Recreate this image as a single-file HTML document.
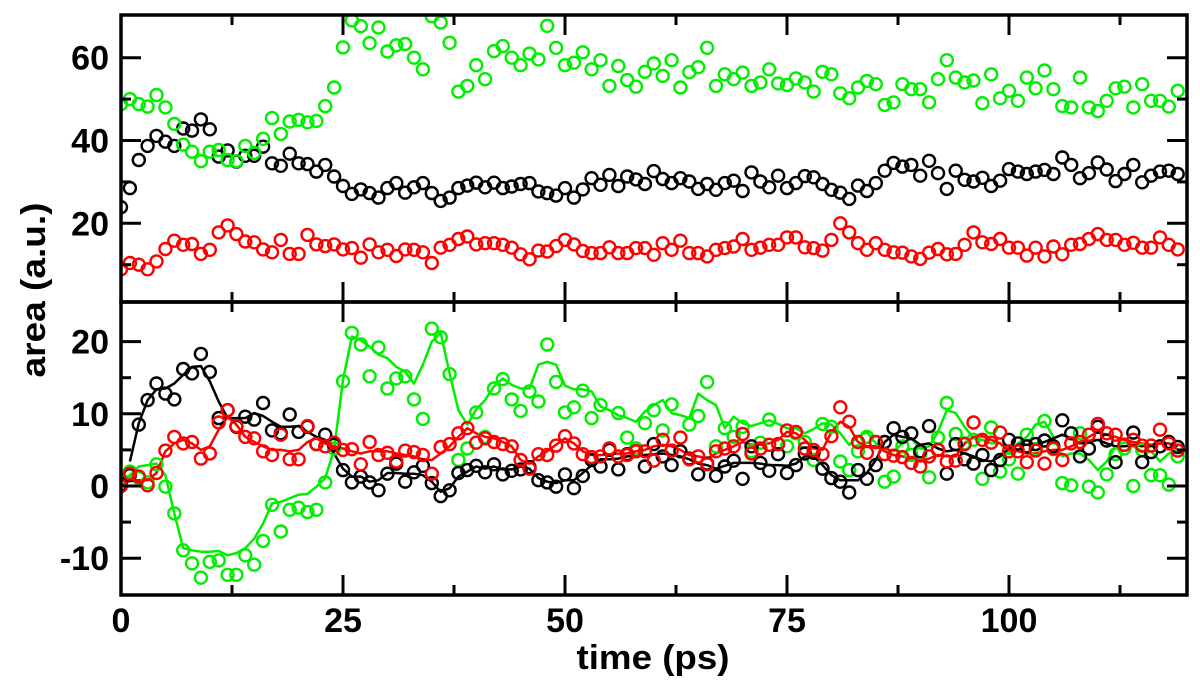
<!DOCTYPE html>
<html>
<head>
<meta charset="utf-8">
<style>
html,body{margin:0;padding:0;background:#fff;}
svg{display:block;font-family:"Liberation Sans",Arial,sans-serif;font-weight:bold;}
</style>
</head>
<body>
<svg id="chart" width="1200" height="680" viewBox="0 0 1200 680" xmlns="http://www.w3.org/2000/svg">
  <defs>
    <clipPath id="clipTop"><rect x="121" y="15" width="1066" height="287"/></clipPath>
    <clipPath id="clipBot"><rect x="121" y="302" width="1066" height="293"/></clipPath>
  </defs>
  <g id="topMarks" clip-path="url(#clipTop)"></g>
  <g id="botMarks" clip-path="url(#clipBot)"></g>
  <g id="axes"></g>
  <text x="0" y="0" transform="translate(45,290) rotate(-90)" text-anchor="middle" font-size="34" textLength="175" lengthAdjust="spacingAndGlyphs">area (a.u.)</text>
  <text x="653" y="669" text-anchor="middle" font-size="34" textLength="153" lengthAdjust="spacingAndGlyphs">time (ps)</text>
</svg>
<script>
// ---- data ----
const topGreen = [48.8,50,48.8,48.2,51,48,44,39,37.3,35,37.3,37.7,35.3,35,38.7,37,40.4,45.4,41.6,44.6,45,44.4,44.7,48.3,52.8,62.5,69,67.6,63.5,67.3,61.5,63,63.3,60,57.2,70,68.5,63.6,51.8,53.2,
58.2,54.8,61.6,62.8,60,58.2,61,59.6,67.7,62.4,58.2,58.8,61.3,57.2,59.4,53.2,58,54.6,53,56.6,58.6,55.6,59.4,52.8,56.5,57.7,62.4,53.2,56,54.8,56.4,53.2,54,57.2,53.8,53.4,55,54,51.8,56.6,
56,51.4,50.2,52.8,54.4,53.6,48.6,49.2,53.6,52.4,52.4,49.2,54.8,59.4,55.2,54,54.5,49,56,50.2,52,49.6,55.2,52.6,56.9,52.4,48.3,48,55.2,48,47.1,49.6,52.6,53,48,53.6,49.6,49.6,48.2,52];
const topBlack = [23.9,28.5,35.3,38.7,41.1,39.7,38.7,42.9,42.4,45.1,42.7,36.1,37.6,34.9,36.3,36.3,38.5,34.5,33.9,36.8,34.5,34.3,32.5,34.1,31.3,29,27.1,28.2,27.3,26.2,28.5,29.7,27.4,28.7,29.7,27.3,25.4,26.2,28.5,29.1,
29.8,28.7,29.8,28.5,28.9,29.5,29.7,27.7,27.3,26.7,28.5,26.2,28.2,30.9,29.3,31.7,29,31.3,30.6,29.5,32.6,30.7,29.7,30.9,30.1,28.3,29.5,28.1,29.7,30.3,27.8,32.3,30.1,28.7,31.5,28.5,29.7,31.4,31.1,29.5,
28.1,27.4,25.9,29.1,27.8,29.7,32.7,34.6,33.7,34.1,31.5,35.1,32.1,28.3,32.7,30.5,30.1,31,29,30.3,33.1,32.5,31.9,32.5,32.9,31.9,35.9,34.1,30.9,32.1,34.7,33,30.2,31.9,34.1,29.9,31.5,32.5,32.7,31.9];
const topRed = [8.9,10.4,10,8.9,10.8,13.8,15.8,14.8,15,12.6,13.6,17.8,19.5,17.4,15.6,15.4,13.7,13,16,12.6,12.6,17.2,14.9,14.5,14.9,13.7,14,11.7,14.9,13,13.6,12.1,13.7,13.6,13,10.4,14.1,14.8,16.2,16.8,
14.9,15.2,15.2,14.8,14.1,12.5,11.3,13.4,13.2,14.5,16,14.9,13.3,12.8,12.8,14.2,12.8,12.8,14,14,12.4,15.2,13.6,15.8,12.8,12.8,12,13.6,14,14.4,16.2,13.6,14.1,14.8,14.8,16.6,16.6,14.2,14,13.4,
16,20,17.8,15.2,13.6,15.2,13.6,13,12.9,12,11.4,12.9,13.8,12.5,12.6,14.8,17.8,15.4,15,16.2,14.1,14.1,12.2,14.1,12,14.4,12.5,14.8,15,16.2,17.4,16,16,14.8,15.3,14.1,14.1,16.6,14.8,13.7];

const botGreen = [0.8,2,1.1,0.5,3,-0.1,-3.8,-8.9,-10.7,-12.7,-10.5,-10.3,-12.3,-12.3,-9.6,-10.9,-7.6,-2.6,-6.3,-3.3,-3,-3.6,-3.3,0.5,5.2,14.5,21.2,19.6,15.2,19.2,13.5,14.9,15.2,12,9.3,21.8,20.6,15.5,3.6,5.2,
10.2,6.8,13.5,14.8,12,10.4,13.1,11.7,19.6,14.4,10.2,10.9,13.2,9.4,11.2,5.2,10.1,6.7,5.2,8.7,10.5,7.7,11.3,4.8,8.5,9.7,14.4,5.5,8,6.8,8.2,4.8,6,9.2,5.8,5.5,7.3,6.1,3.6,8.6,
8.2,3.4,2.2,4.8,6.8,6.1,0.6,1.3,5.5,4.3,4.4,1.2,6.7,11.5,7.2,5.9,6.4,1,8.1,2,3.7,1.7,7.1,5.1,9,5.1,0.4,0.1,7.3,-0.1,-0.9,1.6,4.4,5.2,0,5,1.5,1.5,0.2,4.1];
const botGreenLine = [0.8,1.5,2.7,2.9,3.1,1.5,-3.8,-8.6,-8.9,-9.1,-9.1,-9,-9.6,-9.3,-8.6,-7.3,-5.2,-2.4,-2.2,-1.7,-1.2,-1.1,-0.1,1.1,5,14.7,20.7,20.2,19.3,18.2,17.7,16.5,15.8,14.2,16.8,20,21.2,15.6,10.5,8.5,
10.6,11.9,13.8,14.9,14,13.5,13.5,16.8,17.2,16.8,13.9,13.4,13.4,13.1,11,10.5,9.8,9.4,8.9,10.3,11.2,11.9,10.1,9.8,9.4,12.8,11.9,11.2,8,9.6,8.7,8.3,8.7,9.1,8.6,8,8,7.3,7.9,8.7,
8.5,7.3,5.7,6.8,7.5,5.9,5.2,4.8,5.9,6.6,5.2,5.5,7.5,10.5,10.1,8.2,6.6,6.4,5.9,5.9,4.5,5.9,6.8,8.5,8.9,6.8,4.1,4.5,4.5,3.6,2.2,3.4,5.5,5.5,5.5,4.8,4.8,3.4,4.5,4.8];
const botBlack = [0.2,1.5,8.5,11.9,14.2,12.8,12,16.2,15.6,18.3,15.8,9.4,10.5,8.2,9.6,9.2,11.5,7.7,7.3,9.9,7.5,8.2,5.8,7.1,5.7,2.2,0.5,1.3,0.5,-0.6,1.7,3.1,0.6,1.9,2.8,0.4,-1.4,-0.6,1.8,2.2,
2.8,1.9,3,1.6,2.1,2.3,2.6,0.8,0.5,-0.1,1.6,-0.3,1.4,3.6,2.7,5,2.3,4.4,4.8,2.7,5.8,4.1,2.9,4.8,3.8,1.6,3.1,1.4,2.7,3.5,1,5.5,3.2,2.1,4.4,1.8,2.9,4.5,4.6,2.4,
1.1,0.6,-0.9,2.2,1,2.9,6.1,8,6.8,7.3,4.8,8.3,5,1.7,5.8,3.7,3.1,4.3,2.2,3.6,6.4,5.9,5.5,5.8,6.3,5.5,9.1,7.3,4.1,5.2,8.2,6.3,3.3,5.7,7.4,3.3,4.7,5.5,6.1,5.4];
const botBlackLine = [null,3.4,8.7,11.9,13.4,13.5,14.2,15.4,16.5,16.6,14.5,11.7,9.4,9.4,9.4,10.1,9.7,8.9,8.2,8.2,8.3,7.5,6.8,6.4,4.5,2.4,1.3,1.3,0.6,0.8,1.8,1.8,1.7,1.7,1.5,0.6,-0.8,-0.3,1.3,2,
2.7,2.4,2.7,2.3,2.3,2.7,2.4,1.1,0.6,0.4,0.8,0.8,1.8,2.9,3.7,3.7,3.8,4.1,4.2,4.3,4.4,4.5,4.3,4.1,3.7,3.1,2.9,2.4,2.8,3.2,3.2,3.2,3.1,2.9,2.9,2.8,3.1,4.1,4.1,2.9,
1.5,0.8,0.8,0.8,1.8,3.6,6.1,7.1,6.8,6.6,5.7,5.9,5.2,4.8,5,4.5,4.1,3.6,3.4,4.1,5.2,5.7,5.7,5.7,6.1,6.6,7.1,6.6,5.9,6.1,6.4,5.9,5.5,5.5,5.7,5.5,5.7,5.9,5.9,5.5];
const botRed = [0,1.7,1.3,0.1,1.8,4.9,6.8,5.9,6.1,3.8,4.5,8.8,10.5,8.3,6.8,6.6,4.8,4.3,7.1,3.7,3.7,8.3,5.8,5.5,6,5,5.1,3,6.1,4.3,4.6,3.4,4.9,4.7,4.3,1.7,5.4,5.8,7.3,8,
6,6.6,6.1,5.8,5.5,3.6,2.4,4.4,4.3,5.6,6.9,5.9,4.4,4,4.1,5.2,4.1,4.3,4.8,4.8,3.5,6.4,4.9,6.7,3.7,4.1,3,4.8,5.2,5.5,7.2,4.5,5.2,5.7,5.8,7.7,7.5,5.2,5,4.4,
6.9,10.9,8.9,6.1,4.6,6.1,4.4,4.2,4,3.2,2.7,4.1,5,3.4,3.5,5.8,8.8,6.4,6,7.4,4.8,4.8,3.3,4.9,3.1,5.2,3.6,5.9,6.1,7.1,8.6,7.3,7.1,5.7,6.4,5.6,5.6,7.8,5.9,4.9];
const botRedLine = [0,0.8,0.8,0.8,1.8,4.8,5.9,6.4,5.9,5,5.5,7.8,9.6,8.5,6.8,6.1,5.5,5,5,4.8,5,6.1,6.6,5.9,5.5,5.2,4.8,4.5,4.8,4.8,4.8,4.5,4.3,4.1,3.7,3.6,4.5,5.5,6.8,8,
7.3,6.8,6.6,6.1,5.5,3.6,3.1,4.1,4.8,5.7,6.6,5.9,4.8,4.3,4.3,4.4,4.5,4.5,4.8,5,5.5,5.7,5.5,5,4.3,4.1,3.8,4.5,5,5.5,6.1,5.7,5.7,5.9,6.4,7.5,7.3,6.4,5.2,5,
7.5,8.9,8.2,6.1,5.5,5.5,4.8,4.3,4.1,3.8,3.4,3.8,4.3,4.1,4.1,5.9,6.8,6.9,6.4,5.9,5,4.8,4.5,4.5,4.8,5,5,5.5,6.1,6.8,7.5,7.1,6.8,6.4,6.1,5.9,5.7,5.9,5.9,5];

const xTicks = [0,25,50,75,100];
const topYTicks = [20,40,60];
const botYTicks = [-10,0,10,20];

// ---- scales ----
const X0 = 121, X1 = 1187;
const xs = t => X0 + t * 8.88;
const yT = v => 57.7 + (60 - v) * 4.14;
const yB = v => 486 - v * 7.22;
const NS = "http://www.w3.org/2000/svg";
function mk(tag, attrs, parent){
  const e = document.createElementNS(NS, tag);
  for (const k in attrs) e.setAttribute(k, attrs[k]);
  parent.appendChild(e);
  return e;
}
const GREEN = "#00ee00", RED = "#ff0000", BLACK = "#000000";
const topG = document.getElementById("topMarks");
const botG = document.getElementById("botMarks");
const axG = document.getElementById("axes");

function drawLine(vals, ys, color, parent, name){
  let d = "";
  vals.forEach((v,i)=>{ if(v===null) return; d += (d===""?"M":"L") + xs(i).toFixed(1) + "," + ys(v).toFixed(1); });
  const p = mk("path", {d:d, fill:"none", stroke:color, "stroke-width":2.5, "stroke-linejoin":"round"}, parent);
  
  
}
function drawPts(vals, ys, color, parent, name){
  const g = mk("g", {}, parent);
  
  
  vals.forEach((v,i)=>{
    const c = mk("circle", {cx:xs(i).toFixed(1), cy:ys(v).toFixed(1), r:6, fill:"none", stroke:color, "stroke-width":2.4}, g);
    
    
  });
}
drawPts(topRed, yT, RED, topG, "top-red-series");
drawPts(topBlack, yT, BLACK, topG, "top-black-series");
drawPts(topGreen, yT, GREEN, topG, "top-green-series");
drawLine(botGreenLine, yB, GREEN, botG, "bottom-green-line");
drawLine(botBlackLine, yB, BLACK, botG, "bottom-black-line");
drawLine(botRedLine, yB, RED, botG, "bottom-red-line");
drawPts(botGreen, yB, GREEN, botG, "bottom-green-series");
drawPts(botBlack, yB, BLACK, botG, "bottom-black-series");
drawPts(botRed, yB, RED, botG, "bottom-red-series");

// ---- axes ----
function tick(x1,y1,x2,y2){ mk("line",{x1:x1,y1:y1,x2:x2,y2:y2,stroke:"#000","stroke-width":3},axG); }
const panels = [{top:15,bot:302,ys:yT,maj:[20,40,60],min:[10,30,50,70]},{top:302,bot:595,ys:yB,maj:[-10,0,10,20],min:[-5,5,15]}];
panels.forEach(p=>{
  const r = mk("rect",{x:X0,y:p.top,width:X1-X0,height:p.bot-p.top,fill:"none",stroke:"#000","stroke-width":3.5},axG);
  
  
  p.maj.forEach(v=>{const y=p.ys(v); if(y>p.top+2&&y<p.bot-2){tick(X0,y,X0+20,y);tick(X1,y,X1-20,y);}});
  p.min.forEach(v=>{const y=p.ys(v); if(y>p.top+2&&y<p.bot-2){tick(X0,y,X0+10,y);tick(X1,y,X1-10,y);}});
  for(let t=12.5;t<120;t+=12.5){
    const x=xs(t); const L=(t%25===0)?20:10;
    tick(x,p.top,x,p.top+L); tick(x,p.bot,x,p.bot-L);
  }
});
topYTicks.forEach(v=>{
  const t = mk("text",{x:109,y:yT(v)+12,"text-anchor":"end","font-size":34},axG);
  t.textContent = v;
  
  
});
botYTicks.forEach(v=>{
  const t = mk("text",{x:109,y:yB(v)+12,"text-anchor":"end","font-size":34},axG);
  t.textContent = v;
  
  
});
xTicks.forEach(v=>{
  const t = mk("text",{x:xs(v),y:632,"text-anchor":"middle","font-size":34},axG);
  t.textContent = v;
  
  
});
</script>
</body>
</html>
